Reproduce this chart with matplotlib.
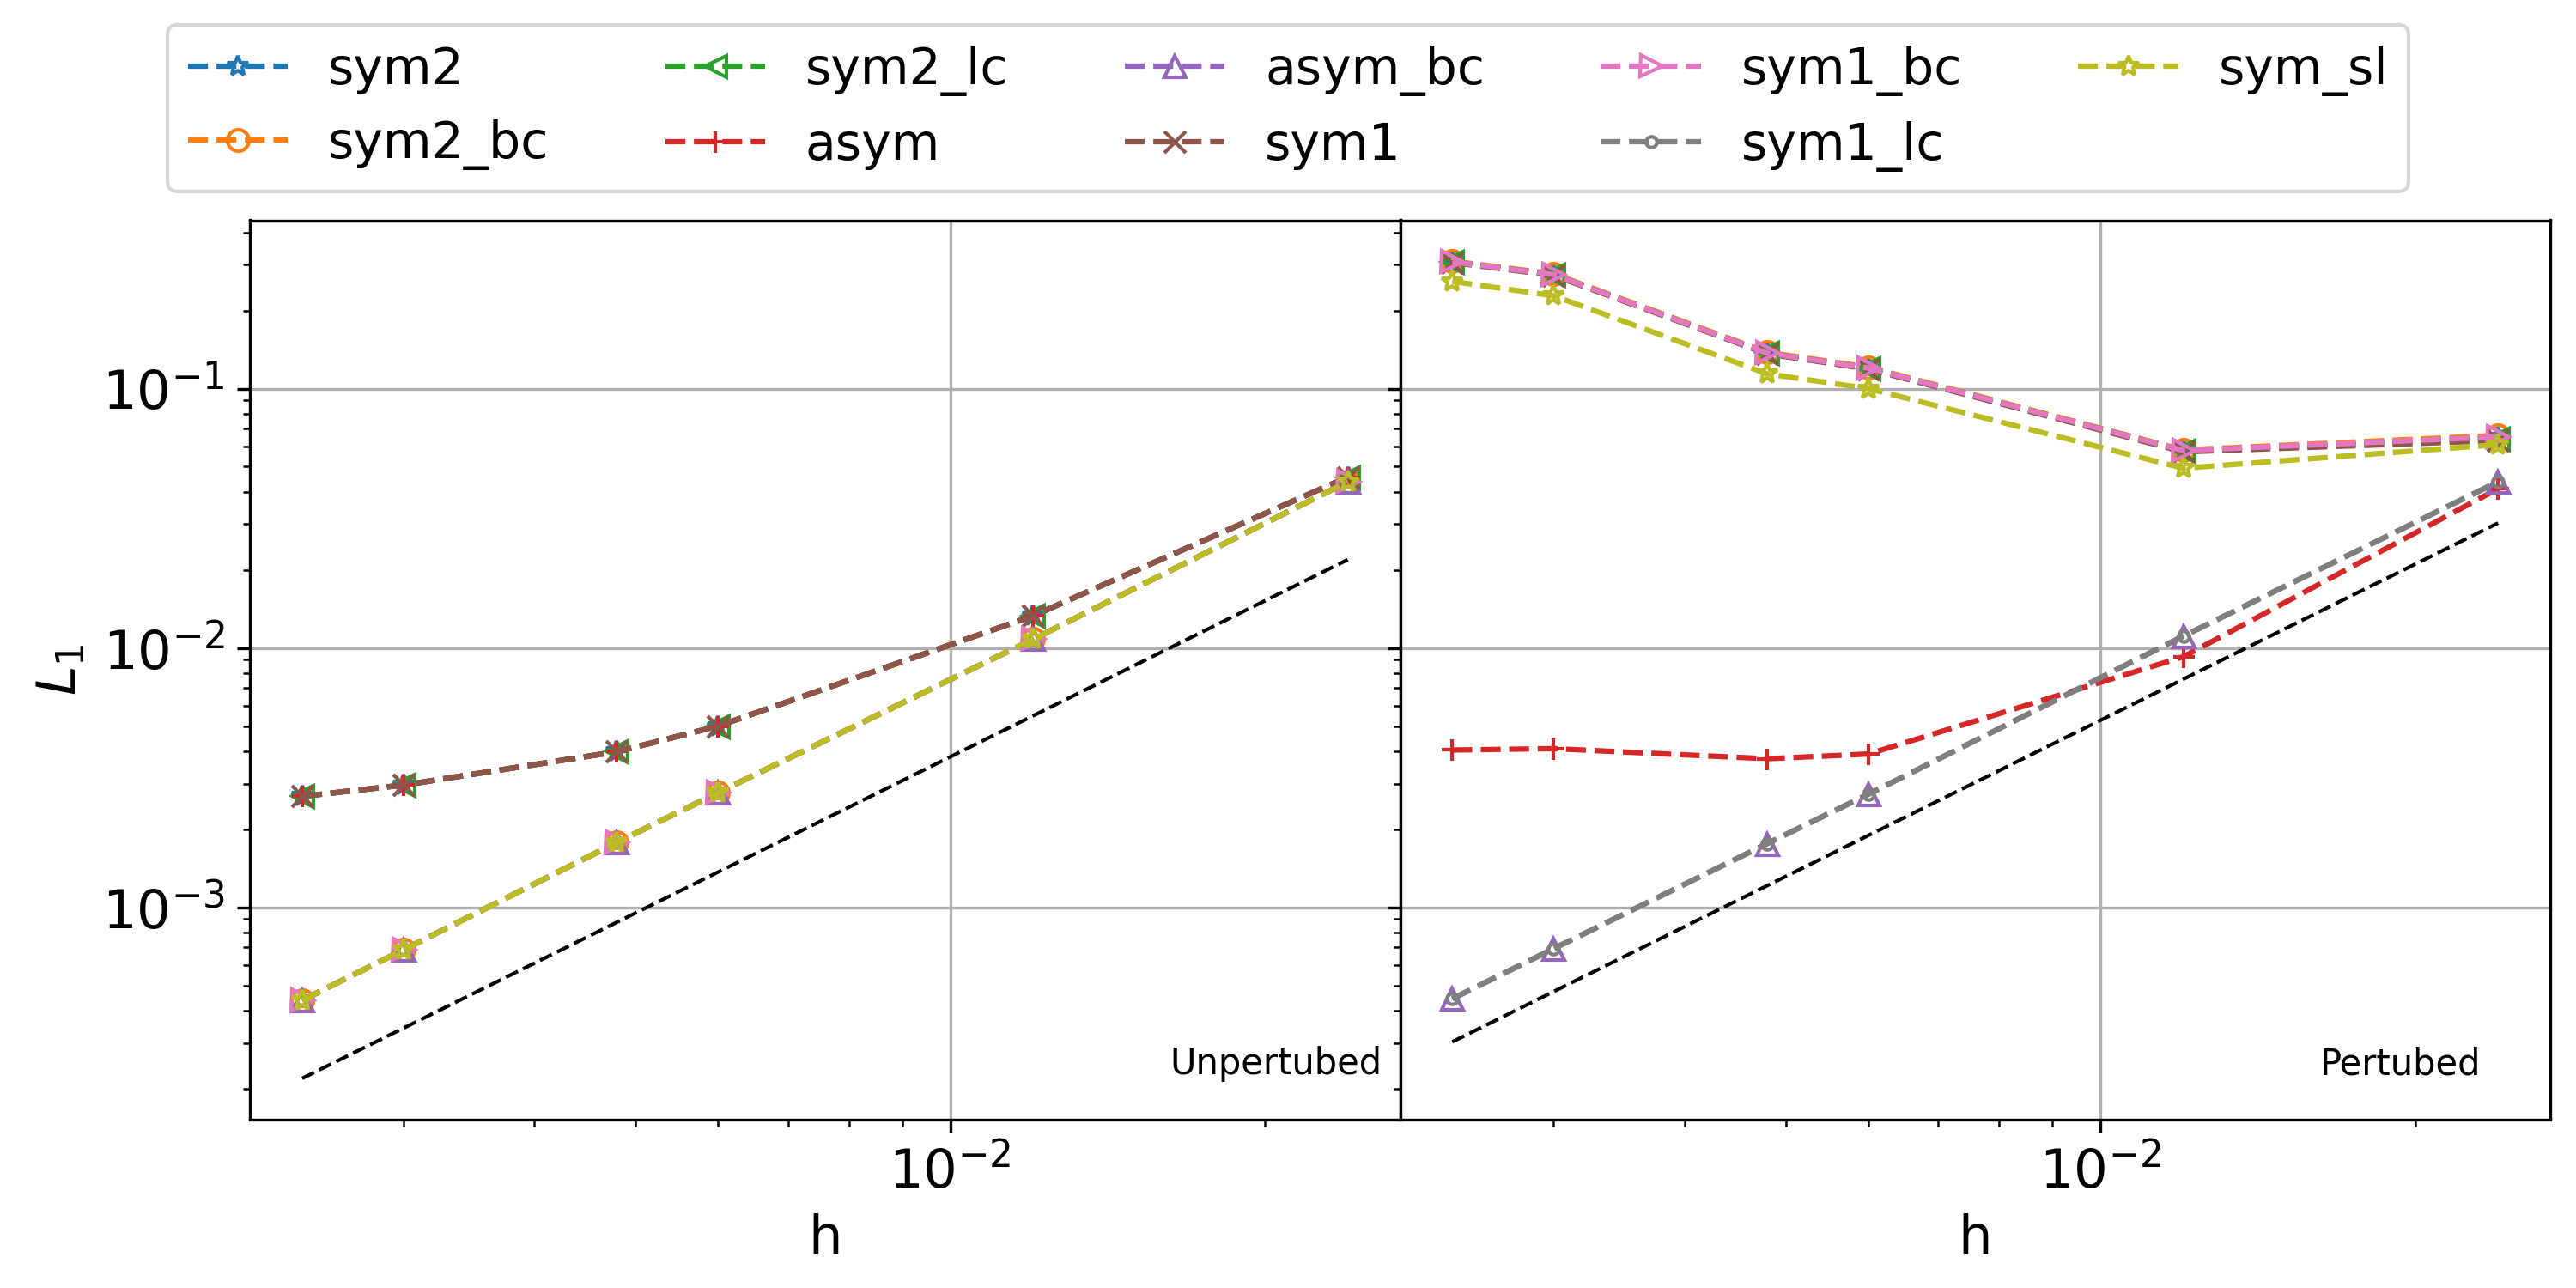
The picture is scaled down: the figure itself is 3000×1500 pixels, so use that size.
import matplotlib
matplotlib.use('Agg')
import matplotlib.pyplot as plt
import numpy as np

plt.rcParams['font.size'] = 15

# mesh sizes
h = [0.0024, 0.003, 0.0048, 0.006, 0.012, 0.024]

labels = ['sym2', 'sym2_bc', 'sym2_lc', 'asym', 'asym_bc',
          'sym1', 'sym1_bc', 'sym1_lc', 'sym_sl']
markers = ['*', 'o', '<', '+', '^', 'x', '>', '.', '*']

# unperturbed mesh errors
unp_sym2 = [2.68e-3, 2.96e-3, 3.98e-3, 5.00e-3, 1.33e-2, 4.56e-2]
unp_sym2_bc = [4.38e-4, 6.86e-4, 1.78e-3, 2.77e-3, 1.08e-2, 4.37e-2]
unp_sym2_lc = [2.68e-3, 2.96e-3, 3.98e-3, 5.00e-3, 1.33e-2, 4.56e-2]
unp_asym = [2.68e-3, 2.96e-3, 3.98e-3, 5.00e-3, 1.33e-2, 4.56e-2]
unp_asym_bc = [4.38e-4, 6.86e-4, 1.78e-3, 2.77e-3, 1.08e-2, 4.37e-2]
unp_sym1 = [2.68e-3, 2.96e-3, 3.98e-3, 5.00e-3, 1.33e-2, 4.56e-2]
unp_sym1_bc = [4.38e-4, 6.86e-4, 1.78e-3, 2.77e-3, 1.08e-2, 4.37e-2]
unp_sym1_lc = [4.38e-4, 6.86e-4, 1.78e-3, 2.77e-3, 1.08e-2, 4.37e-2]
unp_sym_sl = [4.38e-4, 6.86e-4, 1.78e-3, 2.77e-3, 1.08e-2, 4.37e-2]

# perturbed mesh errors
per_sym2 = [0.308, 0.275, 0.137, 0.120, 0.0577, 0.0651]
per_sym2_bc = [0.310, 0.277, 0.138, 0.121, 0.0580, 0.0660]
per_sym2_lc = [0.308, 0.275, 0.137, 0.120, 0.0577, 0.0640]
per_asym = [4.04e-3, 4.09e-3, 3.74e-3, 3.90e-3, 9.24e-3, 0.0411]
per_asym_bc = [4.44e-4, 6.93e-4, 1.76e-3, 2.73e-3, 1.11e-2, 0.0437]
per_sym1 = [0.306, 0.273, 0.136, 0.119, 0.0570, 0.0630]
per_sym1_bc = [0.308, 0.275, 0.137, 0.120, 0.0577, 0.0651]
per_sym1_lc = [4.44e-4, 6.93e-4, 1.76e-3, 2.73e-3, 1.11e-2, 0.0437]
per_sym_sl = [0.259, 0.228, 0.114, 0.100, 0.0493, 0.0608]

# second order reference lines (values at h[0] and h[-1])
ref_h = [h[0], h[-1]]
ref_unp = [2.19e-4, 2.19e-2]
ref_per = [3.03e-4, 3.03e-2]

unp = [unp_sym2, unp_sym2_bc, unp_sym2_lc, unp_asym, unp_asym_bc,
       unp_sym1, unp_sym1_bc, unp_sym1_lc, unp_sym_sl]
per = [per_sym2, per_sym2_bc, per_sym2_lc, per_asym, per_asym_bc,
       per_sym1, per_sym1_bc, per_sym1_lc, per_sym_sl]

fig, axs = plt.subplots(1, 2, figsize=(10, 5), dpi=300, sharex=True, sharey=True)
fig.subplots_adjust(left=0.097, right=0.99, bottom=0.131, top=0.829, wspace=0)

for ax, data, ref, name in zip(axs, [unp, per], [ref_unp, ref_per],
                               ['Unpertubed', 'Pertubed']):
    for lab, mk, y in zip(labels, markers, data):
        ax.loglog(h, y, '--', marker=mk, mfc='none', label=lab)
    ax.loglog(ref_h, ref, 'k--', lw=1)
    ax.grid(True)
    ax.set_xlabel('h')
    ax.text(0.8, 0.05, name, transform=ax.transAxes, fontsize=10)

axs[0].set_ylabel('$L_1$')

handles, labs = axs[0].get_legend_handles_labels()
fig.legend(handles, labs, loc='upper center', ncol=5, fontsize=14,
           columnspacing=2.32, bbox_to_anchor=(0.5, 1.0))

plt.savefig('out.png')
